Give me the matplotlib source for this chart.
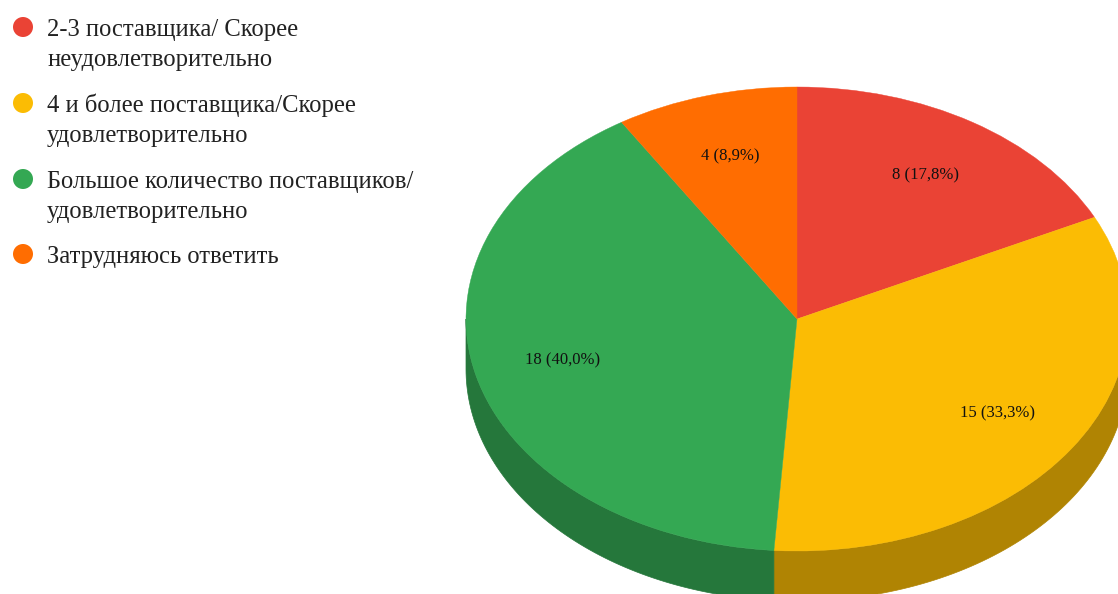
import numpy as np
import matplotlib.pyplot as plt
from matplotlib.patches import Wedge, Polygon, Circle
from matplotlib.transforms import Affine2D

categories = [
    "2-3 поставщика/ Скорее\nнеудовлетворительно",
    "4 и более поставщика/Скорее\nудовлетворительно",
    "Большое количество поставщиков/\nудовлетворительно",
    "Затрудняюсь ответить",
]
counts = [8, 15, 18, 4]
colors = ["#ea4335", "#fbbc04", "#34a853", "#ff6d01"]
side_colors = ["#a32f25", "#b08403", "#25773b", "#b34c01"]

W, H = 1118, 594
fig = plt.figure(figsize=(W / 100, H / 100), dpi=100)
ax = fig.add_axes([0, 0, 1, 1])
ax.set_xlim(0, W)
ax.set_ylim(H, 0)
ax.axis("off")

# ellipse of the pie top face (pixel units) and thickness of the side
cx, cy, rx, ry, depth = 797, 319, 331, 232, 50
unit = Affine2D().scale(rx, -ry).translate(cx, cy) + ax.transData

total = sum(counts)
fracs = np.array(counts) / total
ends = 90 - np.cumsum(fracs) * 360
starts = ends + fracs * 360

# side walls: only the part facing the viewer (lower half of the ellipse)
for a0, a1, sc in zip(ends, starts, side_colors):
    lo, hi = a0 % 360, a0 % 360 + (a1 - a0)
    for off in (0, 360, -360):
        s, e = max(lo + off, 180), min(hi + off, 360)
        if e <= s:
            continue
        t = np.radians(np.linspace(s, e, 80))
        xs = cx + rx * np.cos(t)
        ys = cy - ry * np.sin(t)
        pts = np.column_stack([np.r_[xs, xs[::-1]], np.r_[ys, ys[::-1] + depth]])
        ax.add_patch(Polygon(pts, closed=True, facecolor=sc, edgecolor=sc, lw=0.5))

# top face
for a0, a1, c in zip(ends, starts, colors):
    ax.add_patch(Wedge((0, 0), 1, a0, a1, facecolor=c, edgecolor=c, lw=0.3, transform=unit))

# value labels
for a0, a1, n, f in zip(ends, starts, counts, fracs):
    mid = np.radians((a0 + a1) / 2)
    x = cx + 0.73 * rx * np.cos(mid)
    y = cy - 0.73 * ry * np.sin(mid)
    label = f"{n} ({f * 100:.1f}%)".replace(".", ",")
    ax.text(x, y, label, ha="center", va="center", fontsize=12,
            family="Liberation Serif", color="#111111")

# legend
base = [36, 112, 188, 263]
for cat, c, b in zip(categories, colors, base):
    ax.add_patch(Circle((23, b - 9), 10, facecolor=c, edgecolor="none"))
    for k, line in enumerate(cat.split("\n")):
        ax.text(47, b + k * 30, line, ha="left", va="baseline", fontsize=17.7,
                family="Liberation Serif", color="#222222")

fig.savefig("out.png", dpi=100)
